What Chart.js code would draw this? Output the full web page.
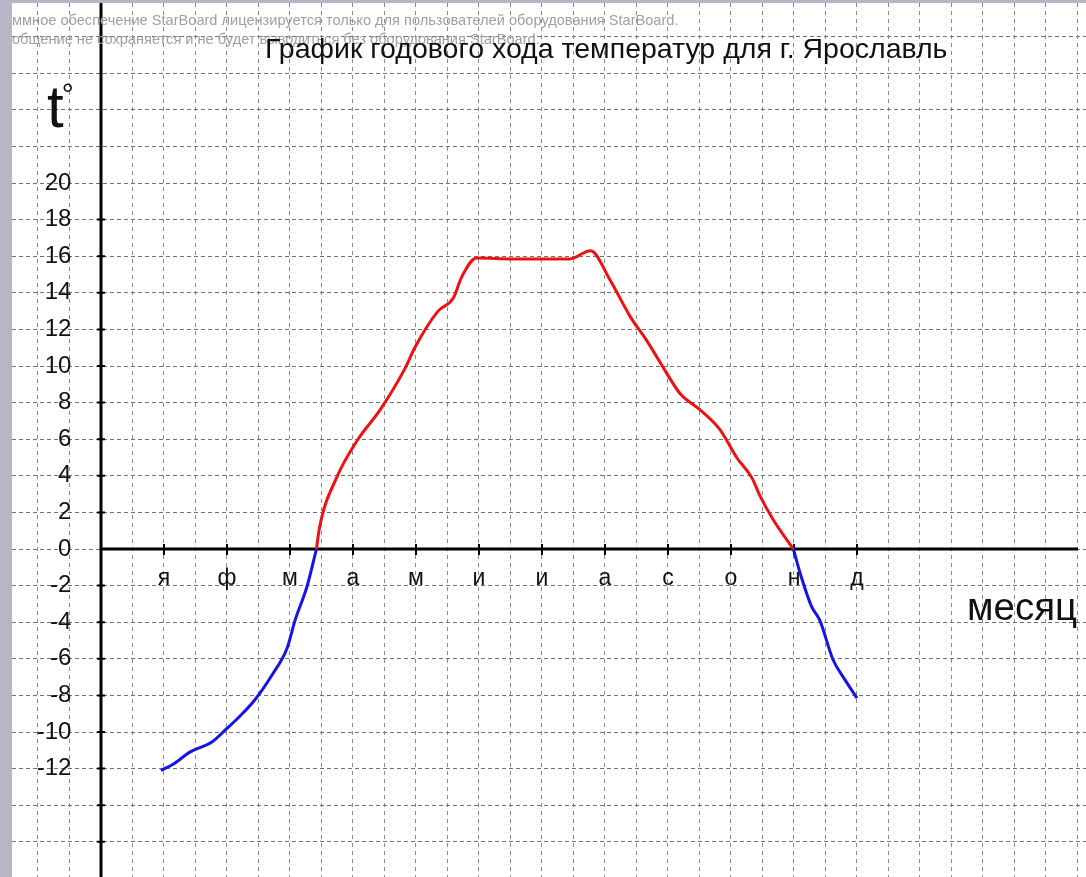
<!DOCTYPE html>
<html>
<head>
<meta charset="utf-8">
<title>График годового хода температур для г. Ярославль</title>
<script src="https://cdn.jsdelivr.net/npm/chart.js@4.4.1/dist/chart.umd.min.js"></script>
<style>
  html, body { margin:0; padding:0; width:1086px; height:877px; overflow:hidden; background:#b9b5c6; font-family:"Liberation Sans", Arial, sans-serif; }
  #wrap { position:absolute; left:12px; top:3px; width:1074px; height:874px; background:#fff; overflow:hidden; }
  #chart { position:absolute; left:0; top:0; }
  .txt { position:absolute; white-space:nowrap; line-height:1; z-index:2; }
  .wm { font-size:14.6px; color:#a0a0a0; left:0; }
  #title { left:253px; top:31px; font-size:28.5px; color:#111; }
  #tlabel { left:35px; top:74px; font-size:60px; color:#111; }
  #tlabel span { font-size:30px; vertical-align:top; position:relative; top:2px; left:-2px; }
  #xname { left:955px; top:585px; font-size:38.5px; color:#111; }
</style>
</head>
<body>
<div id="wrap">
  <canvas id="chart" width="1074" height="874"></canvas>
  <div class="txt wm" style="top:10px">ммное обеспечение StarBoard лицензируется только для пользователей оборудования StarBoard.</div>
  <div class="txt wm" style="top:29px">общение не сохраняется и не будет выводиться без оборудования StarBoard.</div>
  <div class="txt" id="title">График годового хода температур для г. Ярославль</div>
  <div class="txt" id="tlabel">t<span>°</span></div>
  <div class="txt" id="xname">месяц</div>
</div>
<script>
// ---- data ----
const months = ['я','ф','м','а','м','и','и','а','с','о','н','д'];
const yLabelMin = -12;
const yLabelMax = 20;

// warm part (above 0 °C)
const redX = [3.42, 3.47, 3.74, 4.08, 4.43, 4.83, 4.98, 5.35, 5.59, 5.73, 5.96, 6.55, 7.44, 7.77, 8.08, 8.40, 8.66, 8.98, 9.19, 9.51, 9.83, 10.09, 10.33, 10.46, 10.67, 10.99];
const redY = [0, 1.2, 3.9, 6.0, 7.6, 9.9, 11.0, 13.0, 13.7, 14.9, 15.9, 15.85, 15.85, 16.3, 14.7, 12.7, 11.4, 9.6, 8.5, 7.6, 6.5, 5.0, 3.9, 2.9, 1.6, 0];

// cold part, January–March
const blueLX = [0.95, 1.15, 1.41, 1.76, 2.00, 2.20, 2.44, 2.73, 2.95, 3.08, 3.27, 3.42];
const blueLY = [-12.1, -11.75, -11.1, -10.55, -9.8, -9.15, -8.25, -6.8, -5.45, -3.9, -2.05, 0];

// cold part, November–December
const blueRX = [10.99, 11.10, 11.28, 11.41, 11.62, 11.81, 12.0];
const blueRY = [0, -1.35, -3.15, -3.9, -6.05, -7.15, -8.15];

const pts = (xs, ys) => xs.map((x, i) => ({ x: x, y: ys[i] }));

// ---- axes drawn through the origin, using the chart's scales ----
const crossAxes = {
  id: 'crossAxes',
  beforeDatasetsDraw(chart) {
    const { ctx, chartArea, scales: { x, y } } = chart;
    const x0 = x.getPixelForValue(0);
    const y0 = y.getPixelForValue(0);
    ctx.save();
    ctx.strokeStyle = '#000';
    ctx.lineWidth = 3;
    ctx.beginPath();
    ctx.moveTo(x0, chartArea.top);
    ctx.lineTo(x0, chartArea.bottom);
    ctx.moveTo(x0, y0);
    ctx.lineTo(chartArea.right - 8, y0);
    ctx.stroke();
    ctx.lineWidth = 2;
    ctx.beginPath();
    y.ticks.forEach(t => {
      if (t.value !== 0 && t.value < 20) {
        const py = y.getPixelForValue(t.value);
        ctx.moveTo(x0 - 4, py); ctx.lineTo(x0 + 4, py);
      }
    });
    for (let m = 1; m <= months.length; m++) {
      const px = x.getPixelForValue(m);
      ctx.moveTo(px, y0 - 5); ctx.lineTo(px, y0 + 6);
    }
    ctx.stroke();
    ctx.restore();
  }
};

const zeroPad = s => { s.paddingLeft = 0; s.paddingRight = 0; s.paddingTop = 0; s.paddingBottom = 0; };

new Chart(document.getElementById('chart'), {
  type: 'line',
  data: {
    datasets: [
      { label: 'выше 0°', data: pts(redX, redY), borderColor: '#ee1111', borderWidth: 3, pointRadius: 0, cubicInterpolationMode: 'monotone' },
      { label: 'ниже 0° (я–м)', data: pts(blueLX, blueLY), borderColor: '#1414e6', borderWidth: 3, pointRadius: 0, cubicInterpolationMode: 'monotone' },
      { label: 'ниже 0° (н–д)', data: pts(blueRX, blueRY), borderColor: '#1414e6', borderWidth: 3, pointRadius: 0, cubicInterpolationMode: 'monotone' }
    ]
  },
  options: {
    responsive: false,
    animation: false,
    devicePixelRatio: 1,
    layout: { padding: 0 },
    plugins: { legend: { display: false }, tooltip: { enabled: false }, title: { display: false } },
    scales: {
      x: {
        type: 'linear',
        position: { y: 0 },
        min: -1.4127,
        max: 15.635,
        afterFit: zeroPad,
        border: { display: false, dash: [4, 4] },
        grid: { color: '#8a8a8a', lineWidth: 1, drawTicks: false },
        ticks: {
          stepSize: 0.5,
          includeBounds: false,
          autoSkip: false,
          maxRotation: 0,
          padding: 16,
          color: '#111',
          font: { family: '"Liberation Sans", Arial, sans-serif', size: 23 },
          callback: v => (Number.isInteger(v) && v >= 1 && v <= months.length) ? months[v - 1] : ''
        }
      },
      y: {
        type: 'linear',
        position: { x: -0.47 },
        min: -17.923,
        max: 29.836,
        afterFit: zeroPad,
        border: { display: false, dash: [4, 3] },
        grid: { color: '#707070', lineWidth: 1, drawTicks: false },
        ticks: {
          stepSize: 2,
          includeBounds: false,
          color: '#111',
          font: { family: '"Liberation Sans", Arial, sans-serif', size: 24 },
          callback: v => (v >= yLabelMin && v <= yLabelMax) ? String(v) : ''
        }
      }
    }
  },
  plugins: [crossAxes]
});
</script>
</body>
</html>
